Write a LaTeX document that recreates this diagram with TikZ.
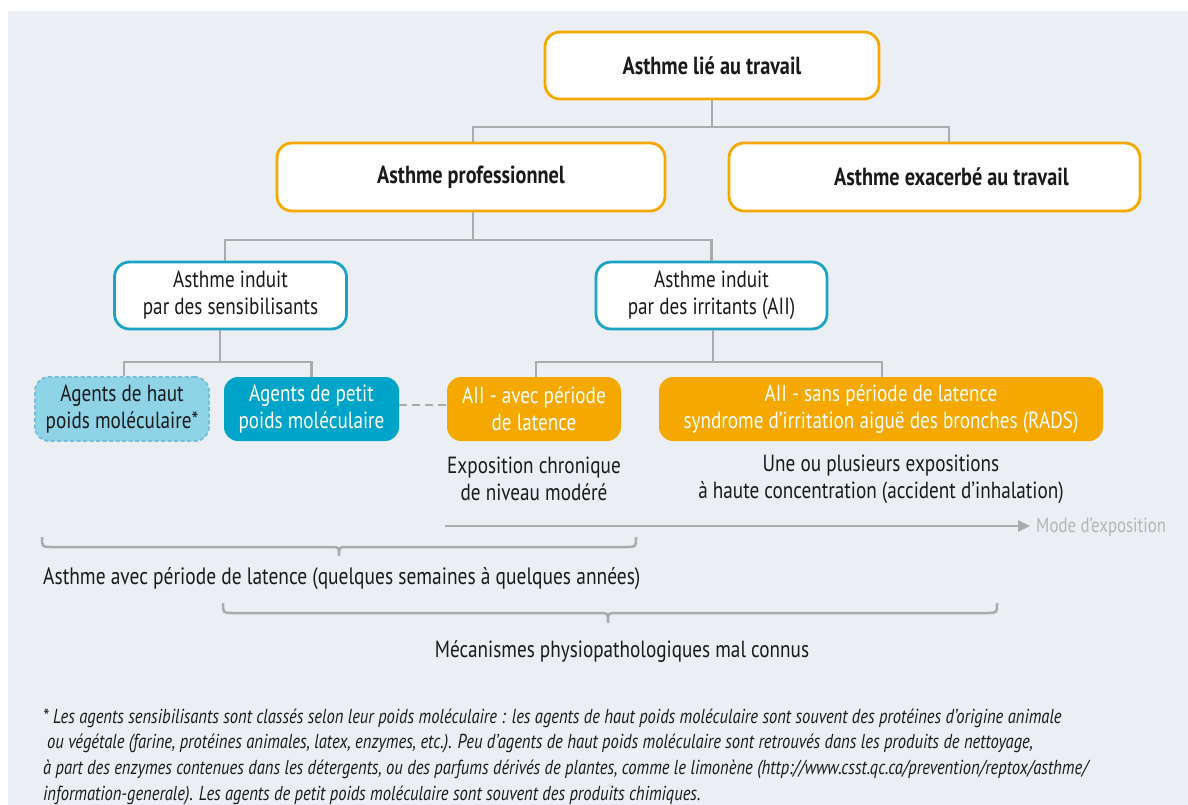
\documentclass[tikz,border=0pt]{standalone}
\usepackage{fontspec}
\setmainfont{PT Sans}[FakeStretch=0.82]
\usetikzlibrary{arrows.meta,calc}
\definecolor{bg}{HTML}{EBEEF3}
\definecolor{orng}{HTML}{F5A800}
\definecolor{cyanb}{HTML}{1BA3C6}
\definecolor{petitc}{HTML}{00A4C8}
\definecolor{hautc}{HTML}{8FD3E6}
\definecolor{hautb}{HTML}{6FC0D8}
\definecolor{lineg}{HTML}{ABABAB}
\definecolor{modeg}{HTML}{B5B5B5}
\definecolor{txt}{HTML}{1A1A1A}
\begin{document}
\begin{tikzpicture}[x=1pt,y=-1pt,
  font=\fontsize{23.4}{27}\selectfont,
  box/.style={rounded corners=15pt, line width=2.8pt, fill=white, align=center, text=txt, inner sep=0pt},
  obox/.style={box, draw=orng, font=\fontsize{24.7}{27}\selectfont\bfseries},
  cbox/.style={box, draw=cyanb},
  fillbox/.style={rounded corners=14pt, align=center, inner sep=0pt, minimum height=64pt},
  conn/.style={draw=lineg, line width=2.5pt},
  bracel/.style={draw=lineg, line width=2.5pt},
  lbl/.style={align=center, text=txt, inner sep=0pt},
  fn/.style={anchor=base west, inner sep=0pt, text=txt, font=\fontsize{20.2}{25}\selectfont\itshape}]
\useasboundingbox (0,0) rectangle (1188,805);
\fill[white] (0,0) rectangle (1188,805);
\fill[bg] (8,11) rectangle (1188,805);

% boxes
\node[obox, minimum width=334pt, minimum height=67pt] (lie) at (712,65.5) {Asthme lié au travail};
\node[obox, minimum width=388pt, minimum height=68pt] (prof) at (471,177) {Asthme professionnel};
\node[obox, minimum width=411pt, minimum height=68pt] (exac) at (934.5,177) {\hspace*{34pt}Asthme exacerbé au travail};

\node[cbox, minimum width=232pt, minimum height=67pt] (sens) at (230.5,295.5) {Asthme induit\\par des sensibilisants};
\node[cbox, minimum width=231pt, minimum height=67pt] (irr) at (711.5,295.5) {Asthme induit\\par des irritants (AII)};

\node[fillbox, fill=hautc, draw=hautb, dash pattern=on 4pt off 2.5pt, line width=1.8pt, minimum width=174pt, text=txt] (haut) at (122,409) {Agents de haut\\poids moléculaire*};
\node[fillbox, fill=petitc, minimum width=175pt, text=white] (petit) at (311.5,409) {Agents de petit\\poids moléculaire};
\node[fillbox, fill=orng, minimum width=174pt, text=white] (avec) at (534,409) {AII - avec période\\de latence};
\node[fillbox, fill=orng, minimum width=444pt, text=white] (sans) at (881,409) {AII - sans période de latence\\syndrome d’irritation aiguë des bronches (RADS)};

\node[lbl] (expc) at (534,479) {Exposition chronique\\de niveau modéré};
\node[lbl] (expa) at (881,479) {Une ou plusieurs expositions\\à haute concentration (accident d’inhalation)};

% connectors
\coordinate (j1) at (711,127);
\coordinate (j2) at (473,240);
\coordinate (j3) at (220,362);
\coordinate (j4) at (713,362);
\draw[conn] (lie.south) -- (lie.south |- j1);
\draw[conn] ([xshift=2pt]prof.north) |- (j1) -| ([xshift=14.5pt]exac.north);
\draw[conn] ([xshift=2pt]prof.south) -- (j2);
\draw[conn] ([xshift=-5.5pt]sens.north) |- (j2) -| (irr.north);
\draw[conn] (sens.south -| j3) -- (j3);
\draw[conn] ([xshift=2pt]haut.north) |- (j3) -| (petit.north);
\draw[conn] (irr.south -| j4) -- (j4);
\draw[conn] ([xshift=2pt]avec.north) |- (j4) -| ([xshift=1pt]sans.north);
\draw[conn, dash pattern=on 8pt off 5pt] ([yshift=4pt]petit.east) -- ([yshift=4pt]avec.west);

% exposure arrow
\node[anchor=west, inner sep=0pt, text=modeg, font=\fontsize{20.5}{24}\selectfont] (mode) at (1036,527) {Mode d’exposition};
\coordinate (ma) at (445,526);
\draw[conn, -{Triangle[length=12pt,width=11pt]}] (ma) -- ([xshift=-6pt]mode.west |- ma);

% braces
\draw[bracel] (42,537) .. controls (42,547) .. (52,547) -- (331,547) .. controls (339,547) .. (339,556) .. controls (339,547) .. (347,547) -- (626,547) .. controls (636,547) .. (636,537);
\draw[bracel] (223,603) .. controls (223,613) .. (233,613) -- (600,613) .. controls (608,613) .. (608,623) .. controls (608,613) .. (616,613) -- (987,613) .. controls (997,613) .. (997,603);

\node[anchor=base west, inner sep=0pt, text=txt, font=\fontsize{23.7}{27}\selectfont] (lat) at (43,584) {Asthme avec période de latence (quelques semaines à quelques années)};
\node[anchor=base, inner sep=0pt, text=txt] (meca) at (622,657) {Mécanismes physiopathologiques mal connus};

% footnote
\node[fn] (fn1) at (43,723) {* Les agents sensibilisants sont classés selon leur poids moléculaire : les agents de haut poids moléculaire sont souvent des protéines d’origine animale};
\node[fn] (fn2) at (47,748) {ou végétale (farine, protéines animales, latex, enzymes, etc.). Peu d’agents de haut poids moléculaire sont retrouvés dans les produits de nettoyage,};
\node[fn] (fn3) at (43,774) {à part des enzymes contenues dans les détergents, ou des parfums dérivés de plantes, comme le limonène (http://www.csst.qc.ca/prevention/reptox/asthme/};
\node[fn] (fn4) at (43,800) {information-generale). Les agents de petit poids moléculaire sont souvent des produits chimiques.};
\end{tikzpicture}
\end{document}
